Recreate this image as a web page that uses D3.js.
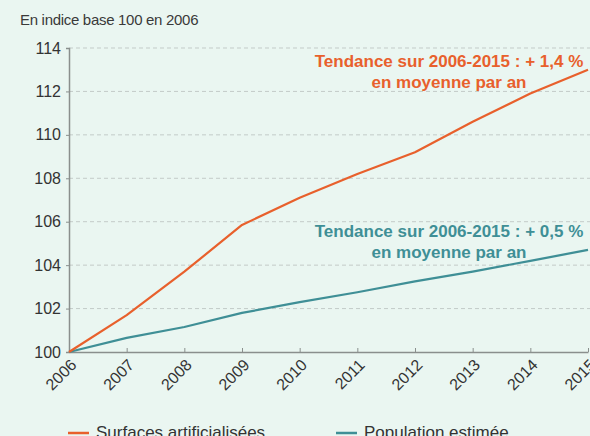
<!DOCTYPE html>
<html>
<head>
<meta charset="utf-8">
<script src="https://cdn.jsdelivr.net/npm/d3@7"></script>
<style>
  body { margin: 0; background: #eaf6f1; }
  svg { display: block; font-family: "Liberation Sans", Arial, sans-serif; }
</style>
</head>
<body>
<svg id="chart" width="590" height="436"></svg>
<script>
// Data
const years = [2006, 2007, 2008, 2009, 2010, 2011, 2012, 2013, 2014, 2015];
const surfaces = [100, 101.7, 103.7, 105.85, 107.1, 108.2, 109.2, 110.6, 111.9, 113.0];
const population = [100, 100.65, 101.15, 101.8, 102.3, 102.75, 103.25, 103.7, 104.2, 104.7];
const yTicks = [100, 102, 104, 106, 108, 110, 112, 114];

const orange = "#e8602c";
const teal = "#3f8f96";

const svg = d3.select("#chart");
const x = d3.scaleLinear().domain([2006, 2015]).range([69, 588]);
const y = d3.scaleLinear().domain([100, 114]).range([352, 48]);

// title
svg.append("text")
    .attr("x", 20).attr("y", 25)
    .attr("font-size", 15).attr("fill", "#3a3a3a")
    .attr("letter-spacing", -0.3)
    .text("En indice base 100 en 2006");

// dashed gridlines
svg.append("g")
    .selectAll("line")
    .data(yTicks.filter(d => d > 100))
    .join("line")
        .attr("x1", 69).attr("x2", 590)
        .attr("y1", d => y(d)).attr("y2", d => y(d))
        .attr("stroke", "#c3cbc8")
        .attr("stroke-dasharray", "4,3");

// y axis
const yAxis = svg.append("g")
    .attr("transform", "translate(69,0)")
    .call(d3.axisLeft(y).tickValues(yTicks).tickSize(3).tickPadding(5));
yAxis.select(".domain").attr("stroke", "#8a8f8d").attr("stroke-width", 1.5);
yAxis.selectAll(".tick line").attr("stroke", "#8a8f8d");
yAxis.selectAll("text")
    .attr("font-size", 16).attr("fill", "#333")
    .attr("font-family", "Liberation Sans, Arial, sans-serif");

// x axis
const xAxis = svg.append("g")
    .attr("transform", "translate(0,352)")
    .call(d3.axisBottom(x).tickValues(years).tickFormat(d3.format("d")).tickSize(-4).tickSizeOuter(0));
xAxis.select(".domain").attr("stroke", "#8a8f8d").attr("stroke-width", 1.5);
xAxis.selectAll(".tick line").attr("stroke", "#8a8f8d");
xAxis.selectAll("text")
    .attr("font-size", 16).attr("fill", "#333")
    .attr("font-family", "Liberation Sans, Arial, sans-serif")
    .attr("text-anchor", "end")
    .attr("dy", null).attr("y", 0)
    .attr("transform", "translate(8,14) rotate(-45)");

// lines
const line = d3.line().x((d, i) => x(years[i])).y(d => y(d));
svg.append("path").datum(population)
    .attr("d", line).attr("fill", "none")
    .attr("stroke", teal).attr("stroke-width", 2.2)
    .attr("stroke-linejoin", "round");
svg.append("path").datum(surfaces)
    .attr("d", line).attr("fill", "none")
    .attr("stroke", orange).attr("stroke-width", 2.2)
    .attr("stroke-linejoin", "round");

// annotations
function note(lines, cx, y0, color) {
    const t = svg.append("text")
        .attr("text-anchor", "middle")
        .attr("font-size", 17).attr("font-weight", "bold")
        .attr("fill", color);
    lines.forEach((l, i) => {
        t.append("tspan").attr("x", cx).attr("y", y0 + i * 21).text(l);
    });
}
note(["Tendance sur 2006-2015 : + 1,4 %", "en moyenne par an"], 449, 67, orange);
note(["Tendance sur 2006-2015 : + 0,5 %", "en moyenne par an"], 449, 237, teal);

// legend
const legend = [
    { label: "Surfaces artificialisées", color: orange, x: 68 },
    { label: "Population estimée", color: teal, x: 336 }
];
const lg = svg.append("g").selectAll("g").data(legend).join("g")
    .attr("transform", d => `translate(${d.x},433)`);
lg.append("line").attr("x1", 0).attr("x2", 21)
    .attr("stroke", d => d.color).attr("stroke-width", 2.5);
lg.append("text").attr("x", 28).attr("y", 5)
    .attr("font-size", 17).attr("fill", "#333")
    .text(d => d.label);
</script>
</body>
</html>
